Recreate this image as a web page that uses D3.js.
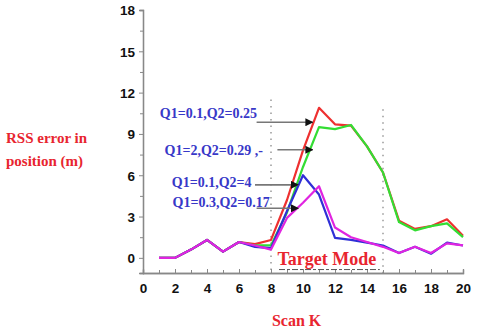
<!DOCTYPE html>
<html>
<head>
<meta charset="utf-8">
<script src="https://cdn.jsdelivr.net/npm/d3@7"></script>
<style>
  body { margin: 0; background: #fff; }
  svg { display: block; }
  .tick text { font-family: "Liberation Sans", Arial, sans-serif; font-weight: bold; font-size: 13.5px; fill: #111; }
  .lbl { font-family: "Liberation Serif", "Times New Roman", serif; font-weight: bold; }
</style>
</head>
<body>
<div class="chart"></div>
<script>
// scan index
var scanK = [1, 2, 3, 4, 5, 6, 7, 8, 9, 10, 11, 12, 13, 14, 15, 16, 17, 18, 19, 20];

// RSS error per setting
var q1_01_q2_025 = [0, 0, 0.6, 1.3, 0.45, 1.15, 1.0, 1.3, 4.2, 7.8, 10.9, 9.7, 9.6, 8.1, 6.2, 2.7, 2.1, 2.3, 2.8, 1.6];
var q1_2_q2_029  = [0, 0, 0.6, 1.3, 0.45, 1.15, 0.9, 0.9, 3.3, 6.6, 9.5, 9.35, 9.65, 8.1, 6.2, 2.6, 2.0, 2.3, 2.5, 1.5];
var q1_01_q2_4   = [0, 0, 0.6, 1.3, 0.45, 1.15, 0.8, 0.7, 3.4, 6.0, 4.6, 1.45, 1.3, 1.1, 0.9, 0.35, 0.8, 0.3, 1.1, 0.9];
var q1_03_q2_017 = [0, 0, 0.6, 1.3, 0.45, 1.15, 0.9, 0.6, 2.9, 4.0, 5.2, 2.2, 1.5, 1.15, 0.8, 0.35, 0.8, 0.35, 1.05, 0.9];

var series = [
    { name: 'Q1=0.1,Q2=0.25', values: q1_01_q2_025, color: '#ee3030' },
    { name: 'Q1=2,Q2=0.29',   values: q1_2_q2_029,  color: '#33dd33' },
    { name: 'Q1=0.1,Q2=4',    values: q1_01_q2_4,   color: '#2f2fd6' },
    { name: 'Q1=0.3,Q2=0.17', values: q1_03_q2_017, color: '#e024e0' }
];

var xTicks = [0, 2, 4, 6, 8, 10, 12, 14, 16, 18, 20];
var yTicks = [0, 3, 6, 9, 12, 15, 18];
var modeBounds = [8, 15];

// annotation labels: text, text anchor (k, value), arrow start/end (k, value)
var notes = [
    { text: 'Q1=0.1,Q2=0.25',  at: [1.05, 10.15], from: [7.1, 9.85], to: [10.6, 9.85], bold: true },
    { text: 'Q1=2,Q2=0.29 ,-', at: [1.35, 7.5],   from: [8.4, 7.85], to: [10.6, 7.85], bold: true },
    { text: 'Q1=0.1,Q2=4',     at: [1.8, 5.15],   from: [7.0, 5.3],  to: [9.7, 5.3],   bold: true },
    { text: 'Q1=0.3,Q2=0.17',  at: [1.85, 3.7],   from: [7.1, 3.6],  to: [9.7, 3.6],   bold: false }
];

function main(){
    var W = 478, H = 330;

    var x = d3.scaleLinear().domain([0, 20]).range([143, 463]);
    var y = d3.scaleLinear().domain([-1.1, 18]).range([273, 10]);

    var svg = d3.select('.chart').append('svg')
        .attr('width', W)
        .attr('height', H);

    svg.append('defs').append('marker')
        .attr('id', 'ah')
        .attr('viewBox', '0 0 10 10')
        .attr('refX', 9).attr('refY', 5)
        .attr('markerWidth', 5).attr('markerHeight', 5)
        .attr('orient', 'auto')
        .append('path')
        .attr('d', 'M0,0 L10,5 L0,10 z')
        .attr('fill', '#111');

    // dotted mode boundaries
    svg.selectAll('.bound')
        .data(modeBounds)
        .enter().append('line')
        .attr('class', 'bound')
        .attr('x1', (d) => { return x(d); })
        .attr('x2', (d) => { return x(d); })
        .attr('y1', (d, i) => { return i === 0 ? y(11.5) : y(10.8); })
        .attr('y2', y(-1.1))
        .attr('stroke', '#999')
        .attr('stroke-width', 1.5)
        .attr('stroke-dasharray', '1.5,5');

    // y axis
    var yAxis = svg.append('g')
        .attr('transform', `translate(${x(0)},0)`)
        .call(d3.axisLeft(y).tickValues(yTicks).tickSize(4).tickPadding(4).tickFormat(d3.format('d')));
    yAxis.append('g')
        .call(d3.axisLeft(y).tickValues(d3.range(1.5, 18, 3)).tickSize(3).tickFormat(''));
    yAxis.selectAll('.domain').attr('stroke', '#888').attr('stroke-width', 1.3);
    yAxis.selectAll('line').attr('stroke', '#888');
    yAxis.selectAll('text').attr('dy', '0.36em');

    // x axis
    var xAxis = svg.append('g')
        .attr('transform', `translate(0,${y(-1.1)})`)
        .call(d3.axisBottom(x).tickValues(xTicks).tickSize(-4).tickPadding(10).tickFormat(d3.format('d')));
    xAxis.append('g')
        .call(d3.axisBottom(x).tickValues(d3.range(1, 20, 2)).tickSize(-3).tickFormat(''));
    xAxis.selectAll('.domain').attr('stroke', '#888').attr('stroke-width', 1.3);
    xAxis.selectAll('line').attr('stroke', '#888');

    // series lines
    var line = d3.line()
        .x((d, i) => { return x(scanK[i]); })
        .y((d) => { return y(d); });

    svg.selectAll('.series')
        .data(series)
        .enter().append('path')
        .attr('class', 'series')
        .attr('d', (d) => { return line(d.values); })
        .attr('fill', 'none')
        .attr('stroke', (d) => { return d.color; })
        .attr('stroke-width', 2.2)
        .attr('stroke-linejoin', 'round');

    // annotation arrows
    svg.selectAll('.arrow')
        .data(notes)
        .enter().append('line')
        .attr('class', 'arrow')
        .attr('x1', (d) => { return x(d.from[0]); })
        .attr('y1', (d) => { return y(d.from[1]); })
        .attr('x2', (d) => { return x(d.to[0]); })
        .attr('y2', (d) => { return y(d.to[1]); })
        .attr('stroke', '#777')
        .attr('stroke-width', 1.6)
        .attr('marker-end', 'url(#ah)');

    svg.selectAll('.note')
        .data(notes)
        .enter().append('text')
        .attr('class', 'lbl note')
        .attr('x', (d) => { return x(d.at[0]); })
        .attr('y', (d) => { return y(d.at[1]); })
        .attr('font-size', 14)
        .attr('font-weight', (d) => { return d.bold ? 'bold' : 'normal'; })
        .attr('fill', '#3838c8')
        .text((d) => { return d.text; });

    // Target Mode
    svg.append('text')
        .attr('class', 'lbl')
        .attr('x', x(8.4))
        .attr('y', y(-0.5))
        .attr('font-size', 18)
        .attr('fill', '#e8252f')
        .text('Target Mode');
    svg.append('line')
        .attr('x1', x(8.5)).attr('x2', x(14.8))
        .attr('y1', y(-0.85)).attr('y2', y(-0.85))
        .attr('stroke', '#555')
        .attr('stroke-width', 1)
        .attr('stroke-dasharray', '6,2,3,2');

    // axis titles
    var yt = svg.append('text')
        .attr('class', 'lbl')
        .attr('x', 6)
        .attr('fill', '#e8252f')
        .attr('font-size', 15);
    yt.append('tspan').attr('x', 6).attr('y', 143).text('RSS error in');
    yt.append('tspan').attr('x', 6).attr('y', 166).text('position (m)');

    svg.append('text')
        .attr('class', 'lbl')
        .attr('x', x(9.6))
        .attr('y', 326)
        .attr('text-anchor', 'middle')
        .attr('font-size', 16)
        .attr('fill', '#e8252f')
        .text('Scan K');
}

main();
</script>
</body>
</html>
